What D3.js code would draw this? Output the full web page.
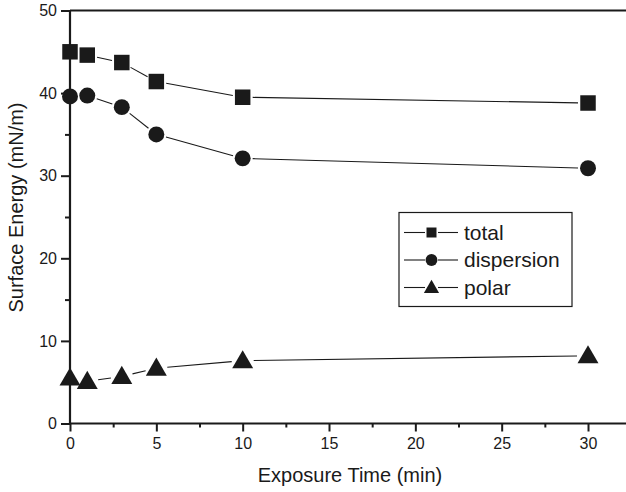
<!DOCTYPE html>
<html><head><meta charset="utf-8">
<script src="https://cdn.jsdelivr.net/npm/d3@7"></script>
<style>body{margin:0;background:#fff}svg{display:block}text{font-family:"Liberation Sans",Arial,sans-serif;fill:#1a1a1a}</style>
</head><body><svg id="c" width="626" height="492"></svg>
<script>
const times = [0, 1, 3, 5, 10, 30];
const total = [45.0, 44.6, 43.7, 41.4, 39.5, 38.8];
const dispersion = [39.6, 39.7, 38.3, 35.0, 32.1, 30.9];
const polar = [5.5, 5.1, 5.7, 6.7, 7.6, 8.2];
const seriesNames = ["total", "dispersion", "polar"];
const xTicks = [0, 5, 10, 15, 20, 25, 30];
const yTicks = [0, 10, 20, 30, 40, 50];

const svg = d3.select("#c");
const m = {l:70, t:10.5, r:626, b:423.5};
const x = d3.scaleLinear().domain([0, 32.2]).range([m.l, m.r]);
const y = d3.scaleLinear().domain([0, 50]).range([m.b, m.t]);
const ink = "#1a1a1a";

// top border
svg.append("line").attr("x1", m.l).attr("x2", 627).attr("y1", y(50)).attr("y2", y(50)).attr("stroke", ink).attr("stroke-width", 2);

// axes
const xAx = svg.append("g").attr("transform", `translate(0,${m.b})`)
  .call(d3.axisBottom(x).tickValues(xTicks).tickSize(8).tickPadding(6).tickFormat(d3.format("d")));
const xMinor = svg.append("g").attr("transform", `translate(0,${m.b})`)
  .call(d3.axisBottom(x).tickValues(d3.range(2.5, 32, 5)).tickSize(4).tickFormat(""));
const yAx = svg.append("g").attr("transform", `translate(${m.l},0)`)
  .call(d3.axisLeft(y).tickValues(yTicks).tickSize(9).tickPadding(4).tickFormat(d3.format("d")));
const yMinor = svg.append("g").attr("transform", `translate(${m.l},0)`)
  .call(d3.axisLeft(y).tickValues(d3.range(5, 50, 10)).tickSize(5).tickFormat(""));
[xAx, xMinor, yAx, yMinor].forEach(g => {
  g.select(".domain").attr("stroke", ink).attr("stroke-width", 2.2);
  g.selectAll(".tick line").attr("stroke", ink).attr("stroke-width", 2);
  g.selectAll("text").attr("font-size", 16).attr("font-family", '"Liberation Sans",Arial,sans-serif').attr("fill", ink);
});
xMinor.select(".domain").remove(); yMinor.select(".domain").remove();
xAx.select(".domain").attr("d", `M${m.l},0H627`);
yAx.select(".domain").attr("d", `M0,${m.b}V${m.t}`);

// axis labels
svg.append("text").attr("x", 350).attr("y", 482).attr("text-anchor", "middle")
  .attr("font-size", 20).text("Exposure Time (min)");
svg.append("text").attr("transform", `translate(23,207.5) rotate(-90)`)
  .attr("text-anchor", "middle").attr("font-size", 20).text("Surface Energy (mN/m)");

const data = [total, dispersion, polar];
const shapes = [d3.symbolSquare, d3.symbolCircle, d3.symbolTriangle];
const sizes = [240, 200, 190];
const gaps = [10, 10, 11];

data.forEach((vals, si) => {
  const pts = times.map((t, i) => [x(t), y(vals[i])]);
  const g = svg.append("g");
  for (let i = 0; i < pts.length - 1; i++) {
    const [x1, y1] = pts[i], [x2, y2] = pts[i + 1];
    const dx = x2 - x1, dy = y2 - y1, L = Math.hypot(dx, dy);
    const gp = gaps[si];
    if (L <= 2 * gp) continue;
    const ux = dx / L, uy = dy / L;
    g.append("line").attr("x1", x1 + ux * gp).attr("y1", y1 + uy * gp)
      .attr("x2", x2 - ux * gp).attr("y2", y2 - uy * gp)
      .attr("stroke", ink).attr("stroke-width", 1.1);
  }
  g.selectAll("path").data(pts).join("path")
    .attr("transform", d => `translate(${d[0]},${d[1] + (si === 2 ? 1.5 : 0)})`)
    .attr("d", d3.symbol().type(shapes[si]).size(sizes[si]))
    .attr("fill", ink);
});

// legend
const lg = svg.append("g");
lg.append("rect").attr("x", 399).attr("y", 212.5).attr("width", 173).attr("height", 94)
  .attr("fill", "#fff").attr("stroke", ink).attr("stroke-width", 1.2);
const legSizes = [100, 110, 100];
seriesNames.forEach((n, i) => {
  const yy = 232.5 + i * 27.5;
  lg.append("line").attr("x1", 404).attr("x2", 425).attr("y1", yy).attr("y2", yy).attr("stroke", ink).attr("stroke-width", 1.1);
  lg.append("line").attr("x1", 438).attr("x2", 458).attr("y1", yy).attr("y2", yy).attr("stroke", ink).attr("stroke-width", 1.1);
  lg.append("path").attr("transform", `translate(431.5,${yy + (i === 2 ? 1 : 0)})`)
    .attr("d", d3.symbol().type(shapes[i]).size(legSizes[i])).attr("fill", ink);
  lg.append("text").attr("x", 464).attr("y", yy + 7).attr("font-size", 21).text(n);
});
</script></body></html>
